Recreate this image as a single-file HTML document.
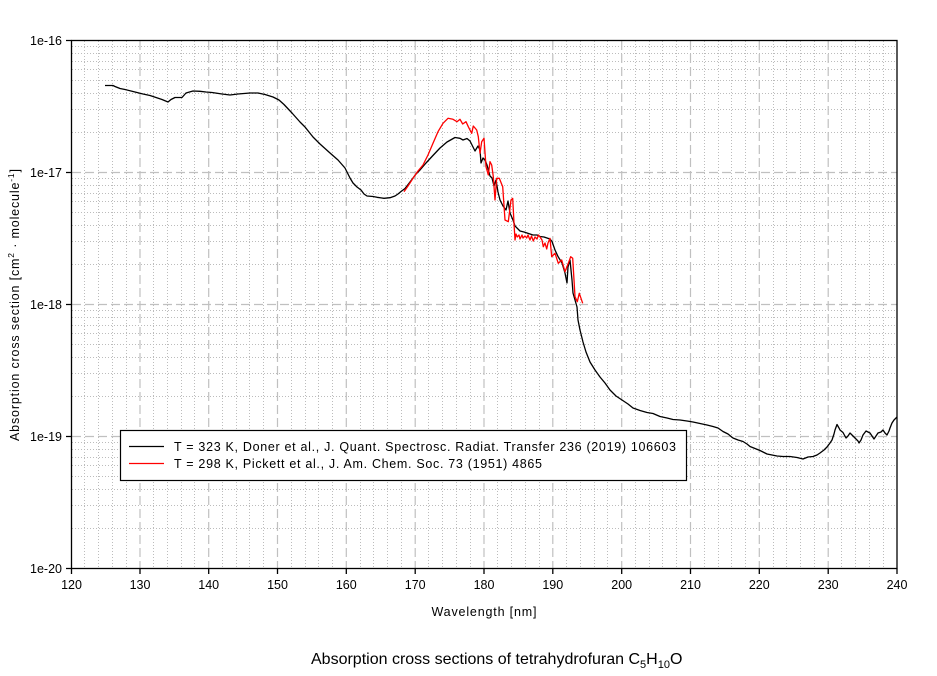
<!DOCTYPE html>
<html>
<head>
<meta charset="utf-8">
<style>
html,body{margin:0;padding:0;background:#fff;}
svg{display:block;}
text{font-family:"Liberation Sans",Arial,sans-serif;fill:#000;}
</style>
</head>
<body>
<svg width="937" height="676" viewBox="0 0 937 676" xmlns="http://www.w3.org/2000/svg">
<rect x="0" y="0" width="937" height="676" fill="#fff"/>

<!-- minor x grid (dotted) -->
<path fill="none" stroke="#bcbcbc" stroke-width="1" stroke-dasharray="1 2" d="
M84.5 41V568 M98.5 41V568 M112.5 41V568 M126.5 41V568
M153.5 41V568 M167.5 41V568 M181.5 41V568 M194.5 41V568
M222.5 41V568 M236.5 41V568 M249.5 41V568 M263.5 41V568
M291.5 41V568 M305.5 41V568 M318.5 41V568 M332.5 41V568
M360.5 41V568 M373.5 41V568 M387.5 41V568 M401.5 41V568
M428.5 41V568 M442.5 41V568 M456.5 41V568 M470.5 41V568
M497.5 41V568 M511.5 41V568 M525.5 41V568 M539.5 41V568
M566.5 41V568 M580.5 41V568 M594.5 41V568 M607.5 41V568
M635.5 41V568 M649.5 41V568 M662.5 41V568 M676.5 41V568
M704.5 41V568 M718.5 41V568 M731.5 41V568 M745.5 41V568
M773.5 41V568 M786.5 41V568 M800.5 41V568 M814.5 41V568
M841.5 41V568 M855.5 41V568 M869.5 41V568 M883.5 41V568"/>

<!-- minor y grid (dotted) -->
<path fill="none" stroke="#bcbcbc" stroke-width="1" stroke-dasharray="1 2" d="
M72 132.5H897 M72 109.5H897 M72 93.5H897 M72 80.5H897 M72 69.5H897 M72 61.5H897 M72 53.5H897 M72 46.5H897
M72 264.5H897 M72 241.5H897 M72 225.5H897 M72 212.5H897 M72 201.5H897 M72 193.5H897 M72 185.5H897 M72 178.5H897
M72 396.5H897 M72 373.5H897 M72 357.5H897 M72 344.5H897 M72 333.5H897 M72 325.5H897 M72 317.5H897 M72 310.5H897
M72 528.5H897 M72 505.5H897 M72 489.5H897 M72 476.5H897 M72 465.5H897 M72 457.5H897 M72 449.5H897 M72 442.5H897"/>

<!-- major grid (dashed) -->
<path fill="none" stroke="#c0c0c0" stroke-width="1.2" stroke-dasharray="9 4" d="
M140 41V568 M208.7 41V568 M277.5 41V568 M346.3 41V568 M415.2 41V568 M484 41V568
M552.8 41V568 M621.7 41V568 M690.5 41V568 M759.3 41V568 M828.2 41V568
M72 172.5H897 M72 304.5H897 M72 436.5H897"/>

<!-- frame -->
<rect x="71.5" y="40.5" width="825.5" height="528" fill="none" stroke="#000" stroke-width="1.3"/>

<!-- ticks -->
<path fill="none" stroke="#000" stroke-width="1.3" d="
M66 40.5H71.5 M66 172.5H71.5 M66 304.5H71.5 M66 436.5H71.5 M66 568.5H71.5
M71.5 568.5V574 M140 568.5V574 M208.7 568.5V574 M277.5 568.5V574 M346.3 568.5V574 M415.2 568.5V574
M484 568.5V574 M552.8 568.5V574 M621.7 568.5V574 M690.5 568.5V574 M759.3 568.5V574 M828.2 568.5V574 M897 568.5V574"/>

<!-- y tick labels -->
<g font-size="12.5" text-anchor="end">
<text x="62" y="45">1e-16</text>
<text x="62" y="177">1e-17</text>
<text x="62" y="309">1e-18</text>
<text x="62" y="441">1e-19</text>
<text x="62" y="573">1e-20</text>
</g>

<!-- x tick labels -->
<g font-size="12.5" text-anchor="middle">
<text x="71.5" y="589">120</text>
<text x="140" y="589">130</text>
<text x="208.7" y="589">140</text>
<text x="277.5" y="589">150</text>
<text x="346.3" y="589">160</text>
<text x="415.2" y="589">170</text>
<text x="484" y="589">180</text>
<text x="552.8" y="589">190</text>
<text x="621.7" y="589">200</text>
<text x="690.5" y="589">210</text>
<text x="759.3" y="589">220</text>
<text x="828.2" y="589">230</text>
<text x="897" y="589">240</text>
</g>

<!-- axis titles -->
<text x="431.5" y="616" font-size="12.5" textLength="105" lengthAdjust="spacing">Wavelength [nm]</text>
<text transform="translate(19,441) rotate(-90)" font-size="12.5" textLength="272" lengthAdjust="spacing">Absorption cross section [cm<tspan font-size="8.5" dy="-5">2</tspan><tspan dy="5"> · molecule</tspan><tspan font-size="8.5" dy="-5">-1</tspan><tspan dy="5">]</tspan></text>

<!-- chart title -->
<text x="311" y="664" font-size="16">Absorption cross sections of tetrahydrofuran C<tspan font-size="11" dy="4">5</tspan><tspan dy="-4">H</tspan><tspan font-size="11" dy="4">10</tspan><tspan dy="-4">O</tspan></text>

<!-- black series -->
<polyline fill="none" stroke="#000" stroke-width="1.3" stroke-linejoin="round" points="
105,85.5 113,85.5 115,86.5 120,88.5 125,89.5 133,91.5 143,94 150,95.5 156,97.5 162,99.5 168,102 171,99.5 175,97.5 182,97.5 186,93 193,91 200,91.3 206,92 212,92.5 222,94 230,95 238,94 250,93 258,93 265,94.5 273,97 279,100 284,104.5 292,113 300,122 305,127 313,137 320,144 330,153 338,160 345,168 350,178 353,183 357,187 361,190 364,194 367,196 373,196.5 377,197.3 384,198.3 390,197.7 395,196 398,194 401,191.5 405,188.5 410,182 416,174 420,170 426,163 432,156.5 440,148 447,142 455,137.5 460,138.3 463,140 467,138.5 470,141 472,145 475,151 478,146 480,150 481,163 483,158 485,160 487,165 490,176 492,178 494,186 496,180 498,192 500,200 503,206 506,210 508,201 510,213 513,220 515,226 520,231 524,232 527,233 530,234 533,235 537,235 540,236.5 544,237 547,238 550,239 552,241.5 555,250 558,256.5 562,263 565,273 567,283 568,267 570,260 572,280 573,293 575,300 577,307 578,320 580,330 583,342 586,352 590,362 595,370 600,377 605,383 610,390 616,396 622,400 628,404 633,408 640,410.5 647,412.5 653,413.5 660,416.5 667,418 673,419.5 680,420 687,421 693,422 700,423.5 707,425 713,426.5 718,428 723,431.5 728,434 733,438 738,440 743,441.5 747,444 750,446.5 755,448.5 760,450.5 763,452 767,454 772,455 777,456 783,456.5 790,456.5 797,457.5 803,459 808,457 813,456.5 817,455 820,453 824,450 827,447 830,443 832,440 834,434 835,430 837,424.5 839,428 840,430 843,432.5 846,438 848,436 850,433 853,436 855,438 858,441 859,443 861,440 863,435 866,431 868,432 870,433 872,436 874,439 876,436 878,433 881,432 883,430 885,433 887,435 889,431 890,428 892,423 894,420 897,417"/>

<!-- red series -->
<polyline fill="none" stroke="#ff0000" stroke-width="1.3" stroke-linejoin="round" points="
404,191.7 408,186 413,178.3 418,171 423,165 428,155 433,143.3 438,131.7 443,123.3 448,118.3 453,119.3 457,121.7 460,119.3 462.7,124 466,121.7 468.3,126.7 471.7,133.3 473.3,126 476.7,130 478.3,136.7 480,153.3 481.7,141.7 484,138.3 486,166.7 488.3,175 490,161.7 491.7,165 493.3,176.7 495,200 496.7,178.3 499.3,178.3 502.7,186.7 505,220 508.3,221.7 511,200 512.7,198.3 514,223.3 515,240 516,234 517.3,237 519,235 520,239 522,235 523,238 525,236 526.7,238 528,235 530,240 531.5,236 533.3,241 535,237 537,239 538.5,235 540,237 542,240 543.3,246.7 545,243 546.7,249 548,243 550,238.3 551.7,256.7 555,253.3 558.3,263.3 561.7,260 565,271.7 568.3,263.3 570.7,256.7 572.7,258.3 575,296.7 577.3,301.7 579.3,293.3 582.7,303.3"/>

<!-- legend -->
<rect x="120.5" y="430.5" width="566" height="50" fill="#fff" stroke="#000" stroke-width="1.2"/>
<line x1="129" y1="446.5" x2="164" y2="446.5" stroke="#000" stroke-width="1.2"/>
<line x1="129" y1="463.5" x2="164" y2="463.5" stroke="#ff0000" stroke-width="1.2"/>
<text x="174" y="451" font-size="12.5" textLength="502" lengthAdjust="spacing">T = 323 K, Doner et al., J. Quant. Spectrosc. Radiat. Transfer 236 (2019) 106603</text>
<text x="174" y="468" font-size="12.5" textLength="368" lengthAdjust="spacing">T = 298 K, Pickett et al., J. Am. Chem. Soc. 73 (1951) 4865</text>
</svg>
</body>
</html>
